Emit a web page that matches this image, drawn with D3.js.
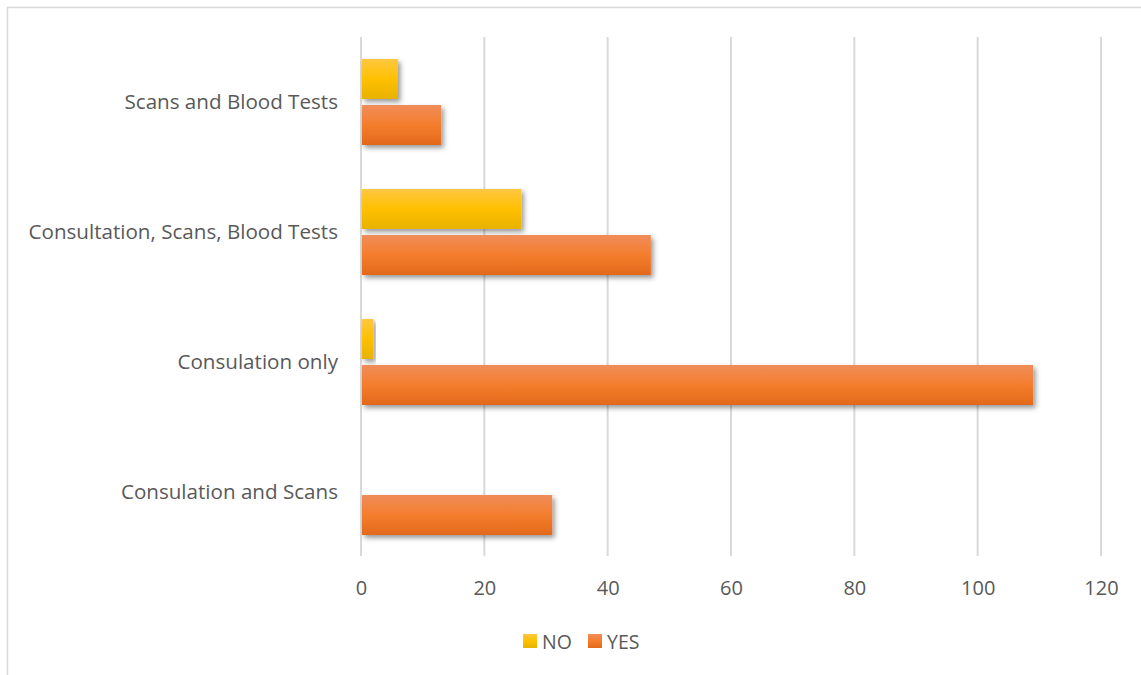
<!DOCTYPE html>
<html>
<head>
<meta charset="utf-8">
<script src="https://cdn.jsdelivr.net/npm/d3@7"></script>
<style>
  html, body { margin: 0; padding: 0; background: #fff; }
  svg { display: block; }
  text { font-family: "Open Sans", "Liberation Sans", sans-serif; fill: #595959; }
</style>
</head>
<body>
<svg id="chart" width="1141" height="675"></svg>
<script>
// Categories, top to bottom
const categories = [
  "Scans and Blood Tests",
  "Consultation, Scans, Blood Tests",
  "Consulation only",
  "Consulation and Scans"
];
const seriesNames = ["NO", "YES"];
const noValues  = [6, 26, 2, 0];
const yesValues = [13, 47, 109, 31];
const xTicks = [0, 20, 40, 60, 80, 100, 120];

const rows = categories.map((c, i) => ({ category: c, NO: noValues[i], YES: yesValues[i] }));

const svg = d3.select("#chart");
const W = 1141, H = 675;
const margin = { left: 361, right: 40, top: 37, bottom: 118 };

// Outer frame (only top and left edges fall inside the view)
svg.append("rect")
  .attr("x", 7.5).attr("y", 7.5)
  .attr("width", W + 20).attr("height", H + 20)
  .attr("fill", "#fff").attr("stroke", "#d9d9d9").attr("stroke-width", 1.5);

const defs = svg.append("defs");
const gradients = {
  NO:  ["#ffc741", "#ffc000", "#e8b200"],
  YES: ["#f08d5a", "#f47d2d", "#e2691b"]
};
Object.entries(gradients).forEach(([k, stops]) => {
  const g = defs.append("linearGradient").attr("id", "grad-" + k)
    .attr("x1", 0).attr("y1", 0).attr("x2", 0).attr("y2", 1);
  g.append("stop").attr("offset", "0%").attr("stop-color", stops[0]);
  g.append("stop").attr("offset", "50%").attr("stop-color", stops[1]);
  g.append("stop").attr("offset", "100%").attr("stop-color", stops[2]);
});
const shadow = defs.append("filter").attr("id", "shadow")
  .attr("x", "-10%").attr("y", "-20%").attr("width", "130%").attr("height", "160%");
shadow.append("feDropShadow")
  .attr("dx", 2.5).attr("dy", 3).attr("stdDeviation", 2.5)
  .attr("flood-color", "#000").attr("flood-opacity", 0.4);

const x = d3.scaleLinear().domain([0, 120]).range([margin.left, 1101]);
const y = d3.scaleBand().domain(categories)
  .range([margin.top, margin.top + 520])
  .paddingInner(44 / 130).paddingOuter(22 / 130);
const ySub = d3.scaleBand().domain(seriesNames)
  .range([0, y.bandwidth()]).paddingInner(6 / 46);

// Vertical gridlines
svg.append("g").selectAll("line").data(xTicks).join("line")
  .attr("x1", d => x(d)).attr("x2", d => x(d))
  .attr("y1", margin.top).attr("y2", margin.top + 519)
  .attr("stroke", "#d9d9d9").attr("stroke-width", 2);

// X axis tick labels
const xAxis = d3.axisBottom(x).tickValues(xTicks).tickSize(0).tickPadding(0);
const gx = svg.append("g").attr("transform", `translate(0, ${margin.top + 520})`).call(xAxis);
gx.select(".domain").remove();
gx.selectAll("text")
  .attr("y", 38).attr("dy", 0)
  .style("font-size", "20px")
  .style("font-family", "'Open Sans', 'Liberation Sans', sans-serif")
  .attr("fill", "#595959");

// Category labels
const yAxis = d3.axisLeft(y).tickSize(0).tickPadding(23);
const gy = svg.append("g").attr("transform", `translate(${margin.left}, 0)`).call(yAxis);
gy.select(".domain").remove();
gy.selectAll("text")
  .style("font-size", "20.6px")
  .style("font-family", "'Open Sans', 'Liberation Sans', sans-serif")
  .attr("fill", "#595959");

// Bars
const groups = svg.append("g").selectAll("g").data(rows).join("g")
  .attr("transform", d => `translate(0, ${y(d.category)})`);
groups.selectAll("rect")
  .data(d => seriesNames.map(s => ({ key: s, value: d[s] })).filter(e => e.value > 0))
  .join("rect")
  .attr("x", x(0) + 1)
  .attr("y", d => ySub(d.key))
  .attr("width", d => x(d.value) - x(0) - 1)
  .attr("height", ySub.bandwidth())
  .attr("fill", d => `url(#grad-${d.key})`)
  .attr("filter", "url(#shadow)");

// Legend
const legend = svg.append("g").attr("transform", "translate(523, 634)");
const legendItems = [
  { key: "NO", x: 0 },
  { key: "YES", x: 65 }
];
const li = legend.selectAll("g").data(legendItems).join("g")
  .attr("transform", d => `translate(${d.x}, 0)`);
li.append("rect").attr("width", 14).attr("height", 14)
  .attr("fill", d => `url(#grad-${d.key})`);
li.append("text").attr("x", 19).attr("y", 14.5)
  .style("font-size", "19.5px")
  .text(d => d.key);
</script>
</body>
</html>
